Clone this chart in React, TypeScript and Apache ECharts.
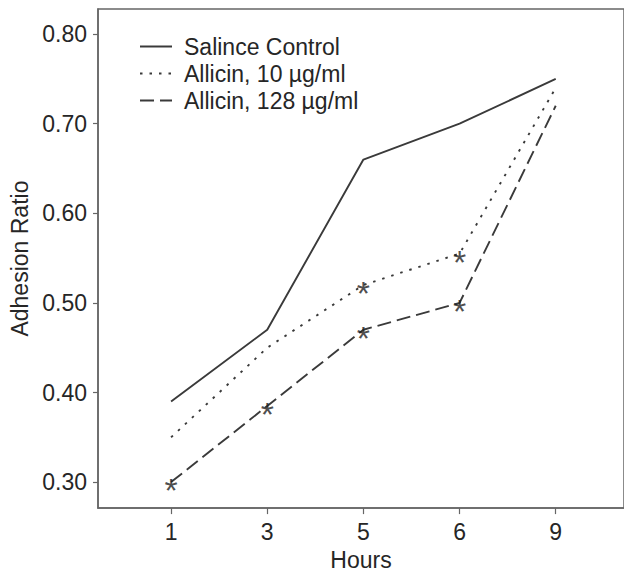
import React, { useEffect, useRef } from "react";
import * as echarts from "echarts";

const hours = ["1", "3", "5", "6", "9"];
const seriesNames = ["Salince Control", "Allicin, 10 µg/ml", "Allicin, 128 µg/ml"];
const saline = [0.39, 0.47, 0.66, 0.70, 0.75];
const allicin10 = [0.35, 0.45, 0.52, 0.555, 0.74];
const allicin128 = [0.30, 0.385, 0.47, 0.50, 0.72];
const sig10 = [false, false, true, true, false];
const sig128 = [true, true, true, true, false];
const yTicks = [0.3, 0.4, 0.5, 0.6, 0.7, 0.8];

const FONT = "'Liberation Sans', Arial, Helvetica, sans-serif";
const LINE = "#3a3a3a";
const AXIS = "#666666";
const TEXT = "#262626";

export default function App() {
  const ref = useRef<HTMLDivElement>(null);
  useEffect(() => {
    if (!ref.current) return;
    const chart = echarts.init(ref.current, null, { renderer: "svg" });
    const toPts = (vals: number[]) => vals.map((v, i) => [i, v]);
    const sigPts = (vals: number[], sig: boolean[]) =>
      vals.map((v, i) => [i, v]).filter((_, i) => sig[i]);
    const starLabel = {
      show: true,
      formatter: "*",
      position: "inside",
      fontSize: 34,
      fontFamily: FONT,
      color: "#1e1e1e",
      offset: [0, 8],
    };
    const option: any = {
      animation: false,
      backgroundColor: "#ffffff",
      textStyle: { fontFamily: FONT },
      grid: {
        left: 98,
        right: -2,
        top: 9,
        bottom: 63,
        show: true,
        borderColor: AXIS,
        borderWidth: 1.5,
        backgroundColor: "transparent",
      },
      legend: {
        data: seriesNames,
        orient: "vertical",
        left: 134,
        top: 30,
        itemWidth: 32,
        itemHeight: 14,
        itemGap: 4,
        itemStyle: { opacity: 0, color: "rgba(0,0,0,0)", borderWidth: 0 },
        textStyle: { fontSize: 23, color: TEXT, fontFamily: FONT, padding: [0, 0, 0, 7] },
      },
      xAxis: {
        type: "value",
        min: -0.76,
        max: 4.71,
        name: "Hours",
        nameLocation: "middle",
        nameGap: 38,
        nameTextStyle: { fontSize: 23, color: TEXT, fontFamily: FONT },
        axisLine: { show: true, onZero: false, lineStyle: { color: AXIS, width: 1.5 } },
        axisTick: { show: true, length: 6, customValues: hours.map((_, i) => i), lineStyle: { color: AXIS, width: 1.2 } },
        axisLabel: {
          customValues: hours.map((_, i) => i),
          formatter: (v: number) => hours[Math.round(v)] ?? "",
          fontSize: 23,
          color: TEXT,
          fontFamily: FONT,
          margin: 12,
        },
        splitLine: { show: false },
      },
      yAxis: {
        type: "value",
        min: 0.271,
        max: 0.828,
        name: "Adhesion Ratio",
        nameLocation: "middle",
        nameGap: 63,
        nameTextStyle: { fontSize: 23, color: TEXT, fontFamily: FONT },
        axisLine: { show: true, onZero: false, lineStyle: { color: AXIS, width: 1.5 } },
        axisTick: { show: true, length: 5, customValues: yTicks, lineStyle: { color: AXIS, width: 1.2 } },
        axisLabel: {
          customValues: yTicks,
          formatter: (v: number) => v.toFixed(2),
          fontSize: 23,
          color: TEXT,
          fontFamily: FONT,
          margin: 11,
        },
        splitLine: { show: false },
      },
      series: [
        {
          name: seriesNames[0],
          type: "line",
          data: toPts(saline),
          symbol: "none",
          lineStyle: { color: LINE, width: 1.9, type: "solid" },
          itemStyle: { color: LINE },
        },
        {
          name: seriesNames[1],
          type: "line",
          data: toPts(allicin10),
          symbol: "none",
          lineStyle: { color: LINE, width: 1.9, type: [2.5, 7] },
          itemStyle: { color: LINE },
        },
        {
          name: seriesNames[2],
          type: "line",
          data: toPts(allicin128),
          symbol: "none",
          lineStyle: { color: LINE, width: 1.9, type: [14, 6] },
          itemStyle: { color: LINE },
        },
        {
          name: "sig10",
          type: "scatter",
          data: sigPts(allicin10, sig10),
          symbol: "circle",
          symbolSize: 1,
          itemStyle: { color: "rgba(0,0,0,0)" },
          label: starLabel,
          z: 5,
        },
        {
          name: "sig128",
          type: "scatter",
          data: sigPts(allicin128, sig128),
          symbol: "circle",
          symbolSize: 1,
          itemStyle: { color: "rgba(0,0,0,0)" },
          label: starLabel,
          z: 5,
        },
      ],
    };
    chart.setOption(option);
    return () => chart.dispose();
  }, []);
  return (
    <div
      ref={ref}
      style={{ position: "fixed", left: 0, top: 0, width: 624, height: 576, background: "#fff" }}
    />
  );
}
